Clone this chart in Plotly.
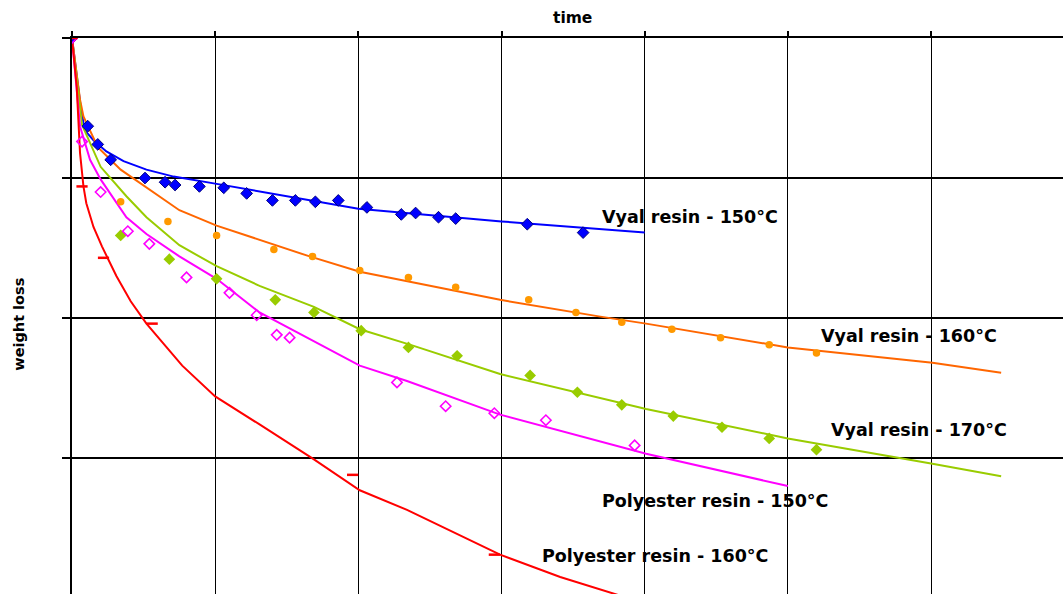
import plotly.graph_objects as go

# ---------------- data (time units = grid divisions, weight loss units = grid divisions) -------------
vyal150_t = [0, 0.11, 0.18, 0.27, 0.51, 0.65, 0.72, 0.89, 1.06, 1.22, 1.40, 1.56, 1.70, 1.86, 2.06, 2.30, 2.40, 2.56, 2.68, 3.18, 3.57]
vyal150_w = [0, 0.63, 0.76, 0.87, 1.00, 1.03, 1.05, 1.06, 1.07, 1.11, 1.16, 1.16, 1.17, 1.16, 1.21, 1.26, 1.25, 1.28, 1.29, 1.33, 1.39]
vyal150_fit_t = [0, 0.063, 0.09, 0.15, 0.24, 0.36, 0.52, 0.71, 1.00, 1.45, 2.00, 3.00, 4.00]
vyal150_fit_w = [0, 0.51, 0.66, 0.73, 0.81, 0.88, 0.94, 0.99, 1.04, 1.12, 1.22, 1.31, 1.39]

vyal160_t = [0, 0.34, 0.67, 1.01, 1.41, 1.68, 2.01, 2.35, 2.68, 3.19, 3.52, 3.84, 4.19, 4.53, 4.87, 5.20]
vyal160_w = [0, 1.17, 1.31, 1.41, 1.51, 1.56, 1.66, 1.71, 1.78, 1.87, 1.96, 2.03, 2.08, 2.14, 2.19, 2.25]
vyal160_fit_t = [0, 0.056, 0.08, 0.18, 0.34, 0.52, 0.75, 1.01, 1.31, 1.66, 2.01, 2.99, 3.69, 4.01, 5.00, 6.01, 6.49]
vyal160_fit_w = [0, 0.44, 0.56, 0.78, 0.94, 1.07, 1.23, 1.34, 1.44, 1.56, 1.67, 1.87, 1.99, 2.04, 2.21, 2.32, 2.39]

vyal170_t = [0, 0.34, 0.68, 1.01, 1.42, 1.69, 2.02, 2.35, 2.69, 3.20, 3.53, 3.84, 4.20, 4.54, 4.87, 5.20]
vyal170_w = [0, 1.41, 1.58, 1.72, 1.87, 1.96, 2.09, 2.21, 2.27, 2.41, 2.53, 2.62, 2.70, 2.78, 2.86, 2.94]
vyal170_fit_t = [0, 0.07, 0.20, 0.38, 0.52, 0.75, 1.01, 1.31, 1.69, 2.01, 2.36, 2.99, 4.01, 5.00, 6.01, 6.49]
vyal170_fit_w = [0, 0.62, 0.92, 1.13, 1.28, 1.48, 1.63, 1.77, 1.92, 2.08, 2.19, 2.40, 2.65, 2.86, 3.04, 3.13]

poly150_t = [0, 0.07, 0.20, 0.39, 0.54, 0.80, 1.10, 1.29, 1.43, 1.52, 2.27, 2.61, 2.95, 3.31, 3.93]
poly150_w = [0, 0.74, 1.10, 1.38, 1.47, 1.71, 1.82, 1.98, 2.12, 2.14, 2.46, 2.63, 2.68, 2.73, 2.91]
poly150_fit_t = [0, 0.056, 0.126, 0.20, 0.38, 0.52, 0.75, 1.01, 1.31, 1.66, 2.01, 2.34, 2.99, 4.01, 5.00]
poly150_fit_w = [0, 0.63, 0.87, 1.01, 1.28, 1.40, 1.56, 1.72, 1.96, 2.15, 2.34, 2.45, 2.69, 2.97, 3.20]

poly160_t = [0, 0.07, 0.22, 0.56, 1.96, 2.95]
poly160_w = [0, 1.06, 1.57, 2.04, 3.12, 3.69]
poly160_fit_t = [0, 0.033, 0.056, 0.08, 0.10, 0.15, 0.21, 0.31, 0.41, 0.52, 0.77, 1.00, 1.31, 1.69, 2.01, 2.34, 2.99, 3.41, 4.01]
poly160_fit_w = [0, 0.35, 0.82, 1.06, 1.18, 1.35, 1.49, 1.70, 1.88, 2.04, 2.34, 2.56, 2.76, 3.01, 3.23, 3.37, 3.69, 3.85, 4.04]

series_labels = ["Vyal resin - 150°C", "Vyal resin - 160°C", "Vyal resin - 170°C",
                 "Polyester resin - 150°C", "Polyester resin - 160°C"]
label_t = [3.69, 5.22, 5.29, 3.69, 3.27]
label_w = [1.28, 2.13, 2.80, 3.31, 3.70]

x_title = "time"
y_title = "weight loss"

# ---------------- figure -------------
fig = go.Figure()

line_specs = [
    (vyal150_fit_t, vyal150_fit_w, "#0000FF"),
    (vyal160_fit_t, vyal160_fit_w, "#FF6600"),
    (vyal170_fit_t, vyal170_fit_w, "#99CC00"),
    (poly150_fit_t, poly150_fit_w, "#FF00FF"),
    (poly160_fit_t, poly160_fit_w, "#FF0000"),
]
for t, w, c in line_specs:
    fig.add_trace(go.Scatter(x=t, y=w, mode="lines", line=dict(color=c, width=2),
                             hoverinfo="skip", showlegend=False))

fig.add_trace(go.Scatter(x=vyal160_t, y=vyal160_w, mode="markers", showlegend=False,
                         marker=dict(symbol="circle", size=7.5, color="#FF9900",
                                     line=dict(width=0))))
fig.add_trace(go.Scatter(x=vyal170_t, y=vyal170_w, mode="markers", showlegend=False,
                         marker=dict(symbol="diamond", size=9, color="#99CC00",
                                     line=dict(width=0))))
fig.add_trace(go.Scatter(x=vyal150_t, y=vyal150_w, mode="markers", showlegend=False,
                         marker=dict(symbol="diamond", size=9, color="#0000FF",
                                     line=dict(width=1, color="#000080"))))
fig.add_trace(go.Scatter(x=poly150_t, y=poly150_w, mode="markers", showlegend=False,
                         marker=dict(symbol="diamond-open", size=8, color="#FF00FF",
                                     line=dict(width=1.6, color="#FF00FF"))))
fig.add_trace(go.Scatter(x=poly160_t, y=poly160_w, mode="markers", showlegend=False,
                         marker=dict(symbol="line-ew", size=8,
                                     line=dict(width=2.5, color="#FF0000"))))

lab_font = dict(family="DejaVu Sans", size=17.5, color="black")
for txt, t, w in zip(series_labels, label_t, label_w):
    fig.add_annotation(x=t, y=w, xref="x", yref="y", text="<b>%s</b>" % txt,
                       showarrow=False, xanchor="left", yanchor="middle", font=lab_font)

fig.add_annotation(x=0.505, y=1.036, xref="paper", yref="paper", text="<b>%s</b>" % x_title,
                   showarrow=False, xanchor="center", yanchor="middle",
                   font=dict(family="DejaVu Sans", size=15.5, color="black"))
fig.add_annotation(x=-0.0535, y=0.486, xref="paper", yref="paper", text="<b>%s</b>" % y_title,
                   showarrow=False, xanchor="center", yanchor="middle", textangle=-90,
                   font=dict(family="DejaVu Sans", size=14.5, color="black"))

fig.update_layout(
    width=1063, height=594,
    margin=dict(l=72, r=0, t=38, b=0),
    paper_bgcolor="white", plot_bgcolor="white",
    showlegend=False,
    xaxis=dict(side="top", range=[0, 6.922], dtick=1, tick0=0,
               showgrid=True, gridcolor="black", gridwidth=1.2,
               showline=True, linecolor="black", linewidth=2.2,
               ticks="outside", ticklen=5, tickwidth=1.5, tickcolor="black",
               showticklabels=False, zeroline=False),
    yaxis=dict(range=[3.971, 0], dtick=1, tick0=0,
               showgrid=True, gridcolor="black", gridwidth=1.8,
               showline=True, linecolor="black", linewidth=2.2,
               ticks="outside", ticklen=8, tickwidth=2, tickcolor="black",
               showticklabels=False, zeroline=False),
)

fig.write_html("out.html", config={"displayModeBar": False},
               post_script="document.body.style.margin='0';document.body.style.overflow='hidden';")
